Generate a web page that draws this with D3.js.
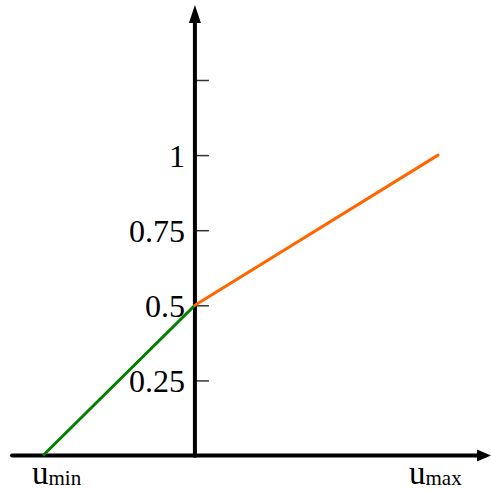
<!DOCTYPE html>
<html><head><meta charset="utf-8">
<script src="https://cdn.jsdelivr.net/npm/d3@7"></script>
<style>body{margin:0;background:#fff}</style>
</head><body>
<script>
const tickValues = [0.25, 0.5, 0.75, 1, 1.25];
const tickLabels = ["0.25", "0.5", "0.75", "1", ""];
const greenSeries = [{u: -1, v: 0}, {u: 0, v: 0.5}];
const orangeSeries = [{u: 0, v: 0.5}, {u: 1.6, v: 1}];
const xLabels = [{u: -1, main: "u", sub: "min"}, {u: 1.6, main: "u", sub: "max"}];

const W = 491, H = 491;
const svg = d3.select("body").append("svg").attr("width", W).attr("height", H);
const x = d3.scaleLinear().domain([-1, 1.6]).range([43, 438]);
const y = d3.scaleLinear().domain([0, 1.25]).range([455.5, 80]);
const font = "'Liberation Serif','Times New Roman',serif";

// y ticks
const yAxis = d3.axisRight(y).tickValues(tickValues).tickSize(14)
  .tickFormat((d, i) => tickLabels[i]);
const gy = svg.append("g").attr("transform", `translate(${x(0)},0)`).call(yAxis);
gy.select(".domain").remove();
gy.selectAll(".tick line").attr("stroke", "#333").attr("stroke-width", 1.5);
gy.selectAll(".tick text").attr("x", -10).attr("dy", "0.35em").attr("text-anchor", "end")
  .attr("font-family", font).attr("font-size", 32).attr("fill", "#000");

// axes lines
svg.append("line").attr("x1", 12).attr("x2", 480).attr("y1", y(0)).attr("y2", y(0))
  .attr("stroke", "#000").attr("stroke-width", 4).attr("stroke-linecap", "round");
svg.append("path").attr("d", `M${491},${y(0)} L${477},${y(0) - 6} L${477},${y(0) + 6} Z`).attr("fill", "#000");
svg.append("line").attr("x1", x(0)).attr("x2", x(0)).attr("y1", y(0) + 2).attr("y2", 20)
  .attr("stroke", "#000").attr("stroke-width", 4);
svg.append("path").attr("d", `M${x(0)},${5} L${x(0) - 6},${23} L${x(0) + 6},${23} Z`).attr("fill", "#000");

const line = d3.line().x(d => x(d.u)).y(d => y(d.v));
svg.append("path").datum(greenSeries).attr("d", line).attr("fill", "none")
  .attr("stroke", "#008000").attr("stroke-width", 3);
svg.append("path").datum(orangeSeries).attr("d", line).attr("fill", "none")
  .attr("stroke", "#ff6600").attr("stroke-width", 3).attr("stroke-linecap", "round");

// x labels
const offsets = [-11, -29];
xLabels.forEach((l, i) => {
  const t = svg.append("text").attr("x", x(l.u) + offsets[i]).attr("y", 483.5)
    .attr("font-family", font).attr("font-size", 33).attr("fill", "#000");
  t.append("tspan").text(l.main);
  t.append("tspan").attr("font-size", 21).attr("dy", 1.5).text(l.sub);
});
</script>
</body></html>
